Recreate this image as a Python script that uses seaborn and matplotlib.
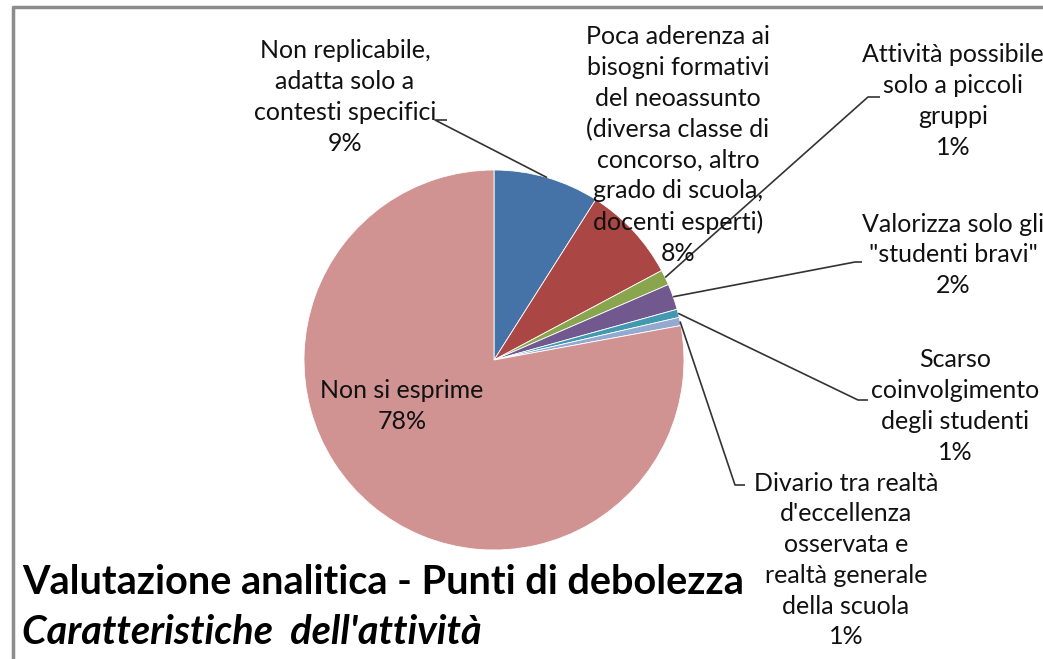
import numpy as np
import matplotlib
matplotlib.use("Agg")
import matplotlib.pyplot as plt
import seaborn as sns

# slices, clockwise from 12 o'clock
labels = [
    "Non replicabile,\nadatta solo a\ncontesti specifici",
    "Poca aderenza ai\nbisogni formativi\ndel neoassunto\n(diversa classe di\nconcorso, altro\ngrado di scuola,\ndocenti esperti)",
    "Attività possibile\nsolo a piccoli\ngruppi",
    "Valorizza solo gli\n\"studenti bravi\"",
    "Scarso\ncoinvolgimento\ndegli studenti",
    "Divario tra realtà\nd'eccellenza\nosservata e\nrealtà generale\ndella scuola",
    "Non si esprime",
]
values = [9.0, 8.2, 1.3, 2.2, 0.7, 0.7, 77.9]
colors = ["#4572A7", "#AA4643", "#89A54E", "#71588F", "#4198AF", "#93A9CF", "#D09392"]

sns.set_style("white")
plt.rcParams['font.family'] = ['Lato', 'DejaVu Sans']

W, H = 1043, 659
fig = plt.figure(figsize=(W / 100, H / 100), dpi=100)
ax = fig.add_axes([0, 0, 1, 1])
ax.set_xlim(0, W)
ax.set_ylim(0, H)
ax.set_aspect("equal")
ax.axis("off")

def py(y):
    return H - y

cx, cy, r = 494, py(360), 190
wedges, _ = ax.pie(values, colors=colors, startangle=90, counterclock=False,
                   center=(cx, cy), radius=r,
                   wedgeprops=dict(edgecolor="white", linewidth=0.6))
ax.set_xlim(0, W)
ax.set_ylim(0, H)

pct = [f"{round(v / sum(values) * 100):.0f}%" for v in values]

# label centre (px), leader elbow (px) or None
place = [
    ((345, 97), (435, 120), (447, 120)),
    ((678, 145), None, None),
    ((953, 101), (868, 97), (880, 97)),
    ((953, 255), (855, 262), (862, 262)),
    ((955, 406), (858, 400), (868, 400)),
    ((846, 560), (735, 485), (745, 485)),
    ((402, 406), None, None),
]

fs = 18
for w, lab, p, (pos, elbow, end) in zip(wedges, labels, pct, place):
    ax.text(pos[0], py(pos[1]), lab + "\n" + p, ha="center", va="center",
            fontsize=fs, linespacing=1.41, color="#111111")
    if elbow is not None:
        ang = np.deg2rad((w.theta1 + w.theta2) / 2)
        x0 = cx + r * np.cos(ang)
        y0 = cy + r * np.sin(ang)
        ax.plot([x0, elbow[0], end[0]], [y0, py(elbow[1]), py(end[1])],
                color="#333333", lw=1.2, solid_capstyle="butt")

# frame
ax.plot([13, 13, W + 5], [-5, py(7), py(7)], color="#8c8c8c", lw=2.5)

ax.text(22, py(583), "Valutazione analitica - Punti di debolezza", fontsize=28.5,
        fontweight="bold", ha="left", va="center", color="black")
ax.text(22, py(632), "Caratteristiche  dell'attività", fontsize=28.5,
        fontweight="bold", fontstyle="italic", ha="left", va="center", color="black")

fig.savefig("out.png", dpi=100)
